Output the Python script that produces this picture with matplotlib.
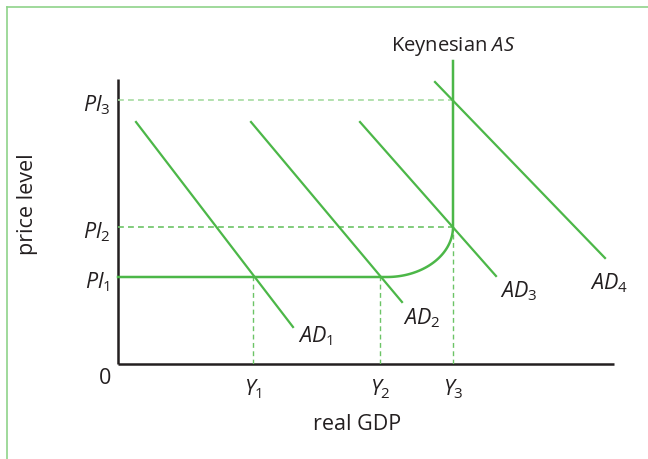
import numpy as np
import matplotlib
matplotlib.use("Agg")
import matplotlib.pyplot as plt
from matplotlib.lines import Line2D

plt.rcParams['font.family'] = ['Open Sans', 'DejaVu Sans']
plt.rcParams['mathtext.fontset'] = 'custom'
plt.rcParams['mathtext.rm'] = 'Open Sans'
plt.rcParams['mathtext.it'] = 'Open Sans:italic'
plt.rcParams['mathtext.bf'] = 'Open Sans:bold'

# ---- data (arbitrary units) ----
price_levels = [87, 137, 264]          # Pl1, Pl2, Pl3
price_labels = [r'$Pl_1$', r'$Pl_2$', r'$Pl_3$']
outputs = [135, 262, 335]              # Y1, Y2, Y3
output_labels = [r'$Y_1$', r'$Y_2$', r'$Y_3$']

ad_x0 = [18, 133, 242, 317]
ad_y0 = [242, 242, 242, 282]
ad_x1 = [175, 284, 378, 487]
ad_y1 = [37, 62, 88, 106]
ad_labels = [r'$AD_1$', r'$AD_2$', r'$AD_3$', r'$AD_4$']
ad_label_x = [180, 285, 382, 472]
ad_label_y = [29, 47, 74, 82]

as_flat_end = 269       # x where Keynesian AS starts to curve
as_top = 303            # top of vertical AS

x_axis_max = 496
y_axis_max = 285

green = '#4cb748'
dash_green = '#6cc466'
light_dash = '#a6dba1'
ink = '#231f20'

fig = plt.figure(figsize=(6.48, 4.60), dpi=100)
ax = fig.add_axes([118/648, 95/460, 496/648, 303/460])
ax.set_xlim(0, x_axis_max)
ax.set_ylim(0, as_top)
ax.axis('off')

# axes lines
ax.plot([0, 0], [0, y_axis_max], color=ink, lw=1.8, solid_capstyle='butt', clip_on=False)
ax.plot([0, x_axis_max], [0, 0], color=ink, lw=1.8, solid_capstyle='butt', clip_on=False)

# dashed guide lines
dash = (0, (3.5, 2.5))
ax.plot([0, outputs[2]], [price_levels[2]] * 2, color=light_dash, lw=1.2, ls=dash)
ax.plot([0, outputs[2]], [price_levels[1]] * 2, color=dash_green, lw=1.2, ls=dash)
ax.plot([outputs[0]] * 2, [0, price_levels[0]], color=dash_green, lw=1.0, ls=dash)
ax.plot([outputs[1]] * 2, [0, price_levels[0]], color=dash_green, lw=1.0, ls=dash)
ax.plot([outputs[2]] * 2, [0, price_levels[1]], color=dash_green, lw=1.0, ls=dash)

# Keynesian AS curve
t = np.linspace(0, np.pi / 2, 60)
cx = as_flat_end + (outputs[2] - as_flat_end) * np.sin(t)
cy = price_levels[1] - (price_levels[1] - price_levels[0]) * np.cos(t)
as_x = np.concatenate([[0], cx, [outputs[2]]])
as_y = np.concatenate([[price_levels[0]], cy, [as_top]])
ax.plot(as_x, as_y, color=green, lw=1.8, clip_on=False)

# AD curves
for x0, y0, x1, y1 in zip(ad_x0, ad_y0, ad_x1, ad_y1):
    ax.plot([x0, x1], [y0, y1], color=green, lw=1.6, clip_on=False)

fs = 15.5
for lx, ly, lab in zip(ad_label_x, ad_label_y, ad_labels):
    ax.text(lx, ly, lab, fontsize=fs, ha='left', va='center', color=ink)

for p, lab in zip(price_levels, price_labels):
    ax.text(-8, p - 4, lab, fontsize=fs, ha='right', va='center', color=ink)

for y, lab in zip(outputs, output_labels):
    ax.text(y, -24, lab, fontsize=fs, ha='center', va='center', color=ink)

ax.text(-13, -14, '0', fontsize=fs, ha='center', va='center', color=ink)
ax.text(239, -60, 'real GDP', fontsize=fs, ha='center', va='center', color=ink)
ax.text(-91, 161, 'price level', fontsize=fs, ha='center', va='center',
        rotation=90, color=ink)
ax.text(outputs[2], 318, r'Keynesian $AS$', fontsize=14.5, ha='center', va='center',
        color=ink)

# frame (left and top edges)
fig.add_artist(Line2D([7/648, 7/648], [0, 1 - 8/460], color='#8fd38a', lw=1.2))
fig.add_artist(Line2D([7/648, 1], [1 - 8/460, 1 - 8/460], color='#8fd38a', lw=1.2))

fig.savefig('out.png', dpi=100)
